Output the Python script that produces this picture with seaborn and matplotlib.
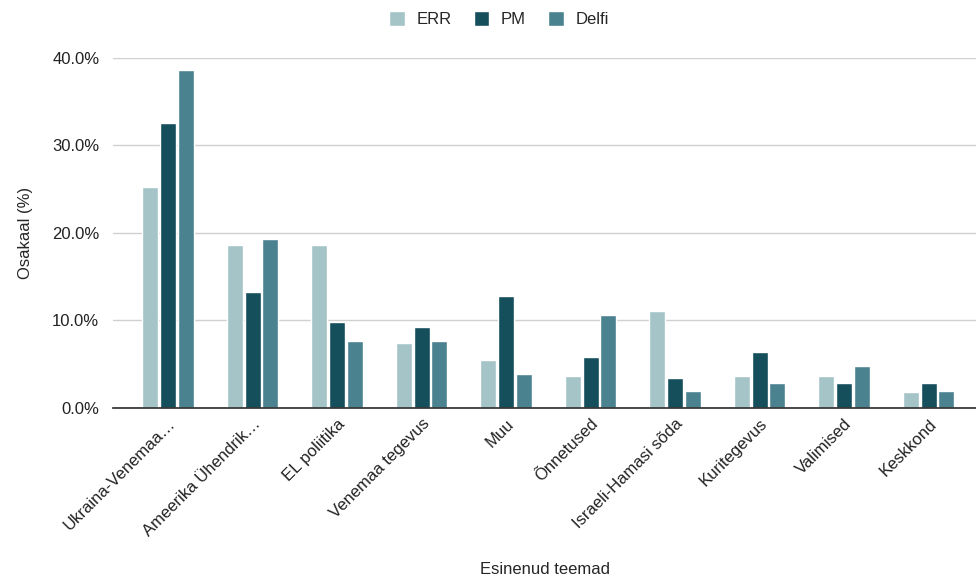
import pandas as pd
import seaborn as sns
import matplotlib.pyplot as plt
from matplotlib.ticker import FuncFormatter

# DATA
teemad = ['Ukraina-Venemaa…', 'Ameerika Ühendrik…', 'EL poliitika', 'Venemaa tegevus', 'Muu',
          'Õnnetused', 'Israeli-Hamasi sõda', 'Kuritegevus', 'Valimised', 'Keskkond']
err = [25.3, 18.6, 18.6, 7.4, 5.5, 3.7, 11.1, 3.7, 3.7, 1.8]
pm = [32.6, 13.3, 9.8, 9.3, 12.8, 5.8, 3.4, 6.4, 2.9, 2.9]
delfi = [38.6, 19.3, 7.7, 7.7, 3.9, 10.6, 1.9, 2.9, 4.8, 1.9]

df = pd.DataFrame({'teema': teemad, 'ERR': err, 'PM': pm, 'Delfi': delfi})
df_melt = pd.melt(df, id_vars=['teema'], var_name='allikas', value_name='osakaal')

sns.set_theme(style='white')
plt.rcParams['font.family'] = ['Liberation Sans', 'DejaVu Sans']

fig = plt.figure(figsize=(9.76, 5.8), dpi=100)
ax = fig.add_axes([0.116, 0.2966, 0.884, 0.6034])

sns.barplot(data=df_melt, x='teema', y='osakaal', hue='allikas',
            palette=['#a5c4c8', '#164f5c', '#4a828f'], width=0.63, gap=0.1,
            saturation=1, ax=ax, zorder=3)

ax.set_ylim(0, 40)
ax.set_yticks([0, 10, 20, 30, 40])
ax.yaxis.set_major_formatter(FuncFormatter(lambda v, p: f'{v:.1f}%'))
ax.grid(axis='y', color='#d0d0d0', linewidth=1, zorder=0)
ax.set_axisbelow(True)
for s in ['top', 'right', 'left']:
    ax.spines[s].set_visible(False)
ax.spines['bottom'].set_color('#333333')
ax.spines['bottom'].set_zorder(4)
ax.tick_params(axis='y', length=0, labelsize=12, pad=10, labelcolor='#222222')
ax.tick_params(axis='x', length=0, labelsize=12, pad=6, labelcolor='#222222')
plt.setp(ax.get_xticklabels(), rotation=45, ha='right', rotation_mode='anchor')
ax.set_xlim(-0.65, len(teemad) - 0.44)

ax.set_ylabel('Osakaal (%)', fontsize=12, labelpad=14)
ax.set_xlabel('Esinenud teemad', fontsize=12)
ax.xaxis.set_label_coords(0.5, -0.44)

leg = ax.legend(loc='center', bbox_to_anchor=(0.447, 1.111), ncol=3, frameon=False,
                fontsize=12, handlelength=0.95, handleheight=0.95, columnspacing=1.3,
                handletextpad=0.7)

fig.savefig('out.png', dpi=100)
